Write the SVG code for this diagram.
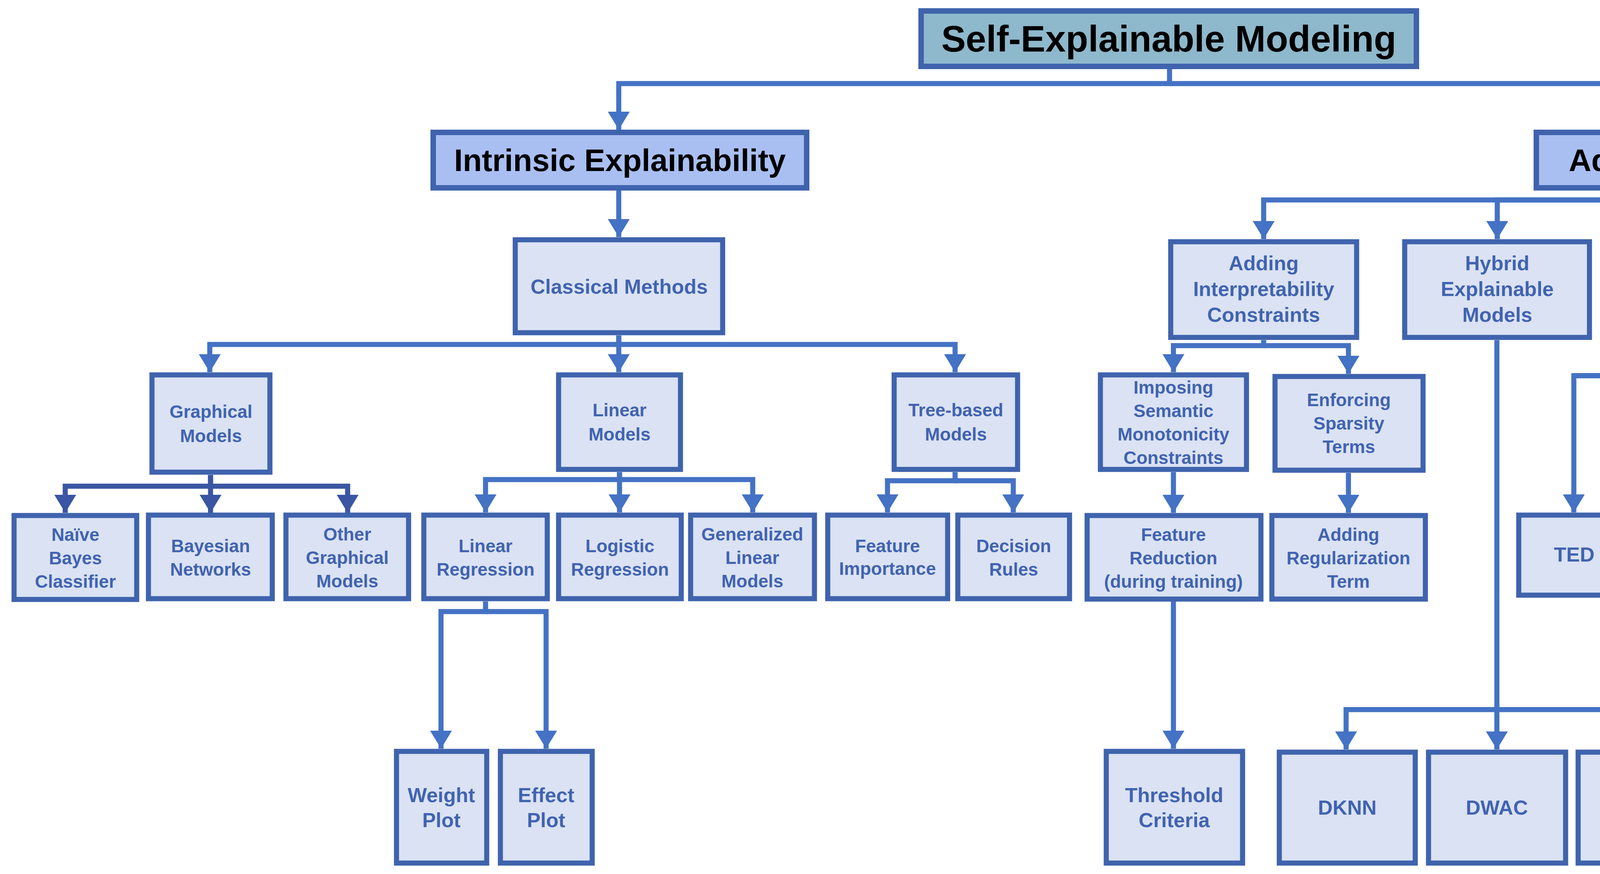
<svg xmlns="http://www.w3.org/2000/svg" width="6408" height="2238" viewBox="0 0 6408 2238">
<style>
.b{fill:#DAE2F3;stroke:#3F63AD;stroke-width:13}
.h{fill:#A9BFF2;stroke:#3F63AD;stroke-width:14}
.r{fill:#8EB8CB;stroke:#3F63AD;stroke-width:14}
.t{font-family:"Liberation Sans",Arial,sans-serif;font-weight:bold;fill:#4163B0;text-anchor:middle;font-size:46px}
.tl{font-size:52px}
.tk{font-family:"Liberation Sans",Arial,sans-serif;font-weight:bold;fill:#000;text-anchor:middle}
.c{fill:none;stroke:#4472C4;stroke-width:13}
.d{fill:none;stroke:#3A56A3;stroke-width:13}
</style>
<defs>
<marker id="a" markerUnits="userSpaceOnUse" viewBox="0 0 46 56" markerWidth="46" markerHeight="56" refX="46" refY="28" orient="auto"><path d="M0,0 L46,28 L0,56 z" fill="#4472C4"/></marker>
<marker id="ad" markerUnits="userSpaceOnUse" viewBox="0 0 46 56" markerWidth="46" markerHeight="56" refX="46" refY="28" orient="auto"><path d="M0,0 L46,28 L0,56 z" fill="#3A56A3"/></marker>
</defs>
<rect width="6408" height="2238" fill="#fff"/>
<g id="connectors">
<path class="c" d="M2994,177 V214 H1584 V332" marker-end="url(#a)"/>
<path class="c" d="M2994,214 H4442 V332" marker-end="url(#a)"/>
<path class="c" d="M1584,488 V607" marker-end="url(#a)"/>
<path class="c" d="M1584,859 V882 H537 V953" marker-end="url(#a)"/>
<path class="c" d="M1584,859 V953" marker-end="url(#a)"/>
<path class="c" d="M1584,882 H2445 V953" marker-end="url(#a)"/>
<path class="d" d="M539,1216 V1245 H167 V1313" marker-end="url(#ad)"/>
<path class="d" d="M539,1216 V1313" marker-end="url(#ad)"/>
<path class="d" d="M539,1245 H890 V1313" marker-end="url(#ad)"/>
<path class="c" d="M1586,1209 V1228 H1243 V1312" marker-end="url(#a)"/>
<path class="c" d="M1586,1209 V1312" marker-end="url(#a)"/>
<path class="c" d="M1586,1228 H1927 V1312" marker-end="url(#a)"/>
<path class="c" d="M2445,1209 V1231 H2272 V1312" marker-end="url(#a)"/>
<path class="c" d="M2445,1231 H2594 V1312" marker-end="url(#a)"/>
<path class="c" d="M1243,1540 V1566 H1129 V1917" marker-end="url(#a)"/>
<path class="c" d="M1243,1566 H1398 V1917" marker-end="url(#a)"/>
<path class="c" d="M4442,488 V512 H3235 V612" marker-end="url(#a)"/>
<path class="c" d="M4442,512 H3833 V612" marker-end="url(#a)"/>
<path class="c" d="M4442,512 H4540 V612" marker-end="url(#a)"/>
<path class="c" d="M4540,512 H5815 V607" marker-end="url(#a)"/>
<path class="c" d="M3235,871 V885 H3004 V953" marker-end="url(#a)"/>
<path class="c" d="M3235,885 H3452 V957" marker-end="url(#a)"/>
<path class="c" d="M3004,1209 V1313" marker-end="url(#a)"/>
<path class="c" d="M3452,1211 V1313" marker-end="url(#a)"/>
<path class="c" d="M3004,1540 V1917" marker-end="url(#a)"/>
<path class="c" d="M3832,871 V1919" marker-end="url(#a)"/>
<path class="c" d="M3832,1817 H3446 V1919" marker-end="url(#a)"/>
<path class="c" d="M3832,1817 H4217 V1919" marker-end="url(#a)"/>
<path class="c" d="M4217,1817 H4601 V1919" marker-end="url(#a)"/>
<path class="c" d="M4601,1817 H4988 V1919" marker-end="url(#a)"/>
<path class="c" d="M4540,871 V962 H4029 V1312" marker-end="url(#a)"/>
<path class="c" d="M4029,962 H4370 V1312" marker-end="url(#a)"/>
<path class="c" d="M4370,962 H4735 V1312" marker-end="url(#a)"/>
<path class="c" d="M4735,962 H5117 V1312" marker-end="url(#a)"/>
<path class="c" d="M5815,864 V882 H5430 V960" marker-end="url(#a)"/>
<path class="c" d="M5815,864 V960" marker-end="url(#a)"/>
<path class="c" d="M5815,882 H6197 V960" marker-end="url(#a)"/>
<path class="c" d="M5815,1213 V1235 H5487 V1312" marker-end="url(#a)"/>
<path class="c" d="M5815,1213 V1312" marker-end="url(#a)"/>
<path class="c" d="M5815,1235 H6146 V1312" marker-end="url(#a)"/>
</g>
<g id="root"><rect class="r" x="2358" y="28" width="1268" height="142"/><text class="tk" x="2992" y="132" font-size="94">Self-Explainable Modeling</text></g>
<g id="intrinsic"><rect class="h" x="1109" y="339" width="956" height="142"/><text class="tk" x="1587" y="438" font-size="80">Intrinsic Explainability</text></g>
<g id="adhoc"><rect class="h" x="3933" y="339" width="1024" height="142"/><text class="tk" x="4445" y="438" font-size="80">Ad-hoc Expalainability</text></g>
<g id="classical"><rect class="b" x="1319" y="614" width="531" height="238"/><text class="t tl" x="1585" y="752">Classical Methods</text></g>
<g id="graphical"><rect class="b" x="389" y="960" width="302" height="249"/><text class="t" x="540" y="1070">Graphical</text><text class="t" x="540" y="1132">Models</text></g>
<g id="linear"><rect class="b" x="1430" y="960" width="312" height="242"/><text class="t" x="1586" y="1066">Linear</text><text class="t" x="1586" y="1128">Models</text></g>
<g id="tree"><rect class="b" x="2289" y="960" width="316" height="242"/><text class="t" x="2447" y="1066">Tree-based</text><text class="t" x="2447" y="1128">Models</text></g>
<g id="naive"><rect class="b" x="36" y="1320" width="314" height="215"/><text class="t" x="193" y="1385">Naïve</text><text class="t" x="193" y="1445">Bayes</text><text class="t" x="193" y="1505">Classifier</text></g>
<g id="bayesian"><rect class="b" x="380" y="1319" width="317" height="214"/><text class="t" x="539" y="1414">Bayesian</text><text class="t" x="539" y="1474">Networks</text></g>
<g id="other"><rect class="b" x="732" y="1319" width="314" height="214"/><text class="t" x="889" y="1384">Other</text><text class="t" x="889" y="1444">Graphical</text><text class="t" x="889" y="1504">Models</text></g>
<g id="linreg"><rect class="b" x="1085" y="1319" width="316" height="214"/><text class="t" x="1243" y="1414">Linear</text><text class="t" x="1243" y="1474">Regression</text></g>
<g id="logreg"><rect class="b" x="1430" y="1319" width="314" height="214"/><text class="t" x="1587" y="1414">Logistic</text><text class="t" x="1587" y="1474">Regression</text></g>
<g id="glm"><rect class="b" x="1768" y="1319" width="317" height="214"/><text class="t" x="1926" y="1384" font-size="44">Generalized</text><text class="t" x="1926" y="1444">Linear</text><text class="t" x="1926" y="1504">Models</text></g>
<g id="featimp"><rect class="b" x="2119" y="1319" width="307" height="214"/><text class="t" x="2272" y="1414" font-size="42">Feature</text><text class="t" x="2272" y="1472" font-size="42">Importance</text></g>
<g id="decrules"><rect class="b" x="2452" y="1319" width="286" height="214"/><text class="t" x="2595" y="1414">Decision</text><text class="t" x="2595" y="1474">Rules</text></g>
<g id="weight"><rect class="b" x="1015" y="1924" width="231" height="286"/><text class="t tl" x="1130" y="2054">Weight</text><text class="t tl" x="1130" y="2118">Plot</text></g>
<g id="effect"><rect class="b" x="1281" y="1924" width="235" height="286"/><text class="t tl" x="1398" y="2054">Effect</text><text class="t tl" x="1398" y="2118">Plot</text></g>
<g id="adding"><rect class="b" x="2997" y="619" width="476" height="245"/><text class="t tl" x="3235" y="692">Adding</text><text class="t tl" x="3235" y="758">Interpretability</text><text class="t tl" x="3235" y="824">Constraints</text></g>
<g id="imposing"><rect class="b" x="2817" y="960" width="374" height="242"/><text class="t" x="3004" y="1008">Imposing</text><text class="t" x="3004" y="1068">Semantic</text><text class="t" x="3004" y="1128">Monotonicity</text><text class="t" x="3004" y="1188">Constraints</text></g>
<g id="enforcing"><rect class="b" x="3264" y="964" width="379" height="240"/><text class="t" x="3453" y="1040">Enforcing</text><text class="t" x="3453" y="1100">Sparsity</text><text class="t" x="3453" y="1160">Terms</text></g>
<g id="featred"><rect class="b" x="2783" y="1320" width="445" height="214"/><text class="t" x="3004" y="1385">Feature</text><text class="t" x="3004" y="1445">Reduction</text><text class="t" x="3004" y="1505">(during training)</text></g>
<g id="addreg"><rect class="b" x="3256" y="1320" width="393" height="214"/><text class="t" x="3452" y="1385">Adding</text><text class="t" x="3452" y="1445">Regularization</text><text class="t" x="3452" y="1505">Term</text></g>
<g id="threshold"><rect class="b" x="2832" y="1924" width="349" height="286"/><text class="t tl" x="3006" y="2054">Threshold</text><text class="t tl" x="3006" y="2118">Criteria</text></g>
<g id="hybrid"><rect class="b" x="3596" y="619" width="473" height="245"/><text class="t tl" x="3833" y="692">Hybrid</text><text class="t tl" x="3833" y="758">Explainable</text><text class="t tl" x="3833" y="824">Models</text></g>
<g id="dknn"><rect class="b" x="3275" y="1926" width="348" height="284"/><text class="t tl" x="3449" y="2086">DKNN</text></g>
<g id="dwac"><rect class="b" x="3657" y="1926" width="351" height="284"/><text class="t tl" x="3832" y="2086">DWAC</text></g>
<g id="senn"><rect class="b" x="4040" y="1926" width="350" height="284"/><text class="t tl" x="4215" y="2086">SENN</text></g>
<g id="cen"><rect class="b" x="4424" y="1926" width="352" height="284"/><text class="t tl" x="4600" y="2086">CEN</text></g>
<g id="bagnets"><rect class="b" x="4809" y="1926" width="350" height="284"/><text class="t tl" x="4984" y="2086">BagNets</text></g>
<g id="joint"><rect class="b" x="4304" y="619" width="473" height="245"/><text class="t tl" x="4540" y="726">Joint Prediction</text><text class="t tl" x="4540" y="790">&amp; Explaination</text></g>
<g id="ted"><rect class="b" x="3888" y="1319" width="283" height="205"/><text class="t tl" x="4030" y="1438">TED</text></g>
<g id="multimodal"><rect class="b" x="4202" y="1319" width="335" height="205"/><text class="t" x="4370" y="1408">Multimodal</text><text class="t" x="4370" y="1468">Explantion</text></g>
<g id="visual"><rect class="b" x="4568" y="1319" width="335" height="205"/><text class="t" x="4735" y="1408">Visual</text><text class="t" x="4735" y="1468">Explanation</text></g>
<g id="rational"><rect class="b" x="4934" y="1319" width="367" height="205"/><text class="t" x="5117" y="1378">Rationalizing</text><text class="t" x="5117" y="1438">Neural</text><text class="t" x="5117" y="1498">Predictions</text></g>
<g id="arch"><rect class="b" x="5580" y="614" width="471" height="243"/><text class="t tl" x="5815" y="721">Architectural</text><text class="t tl" x="5815" y="787">Adjustements</text></g>
<g id="ecnn"><rect class="b" x="5259" y="967" width="348" height="239"/><text class="t tl" x="5433" y="1103">ECNN</text></g>
<g id="attention"><rect class="b" x="5640" y="967" width="353" height="239"/><text class="t tl" x="5816" y="1070">Attention</text><text class="t tl" x="5816" y="1134">Mechanism</text></g>
<g id="eda"><rect class="b" x="6026" y="967" width="349" height="239"/><text class="t tl" x="6200" y="1103">EDA</text></g>
<g id="global"><rect class="b" x="5336" y="1319" width="305" height="205"/><text class="t" x="5488" y="1408">Global</text><text class="t" x="5488" y="1468">Attention</text></g>
<g id="local"><rect class="b" x="5669" y="1319" width="297" height="205"/><text class="t" x="5817" y="1408">Local</text><text class="t" x="5817" y="1468">Attention</text></g>
<g id="self"><rect class="b" x="5987" y="1319" width="318" height="205"/><text class="t" x="6146" y="1408">Self-</text><text class="t" x="6146" y="1468">attention</text></g>
</svg>
